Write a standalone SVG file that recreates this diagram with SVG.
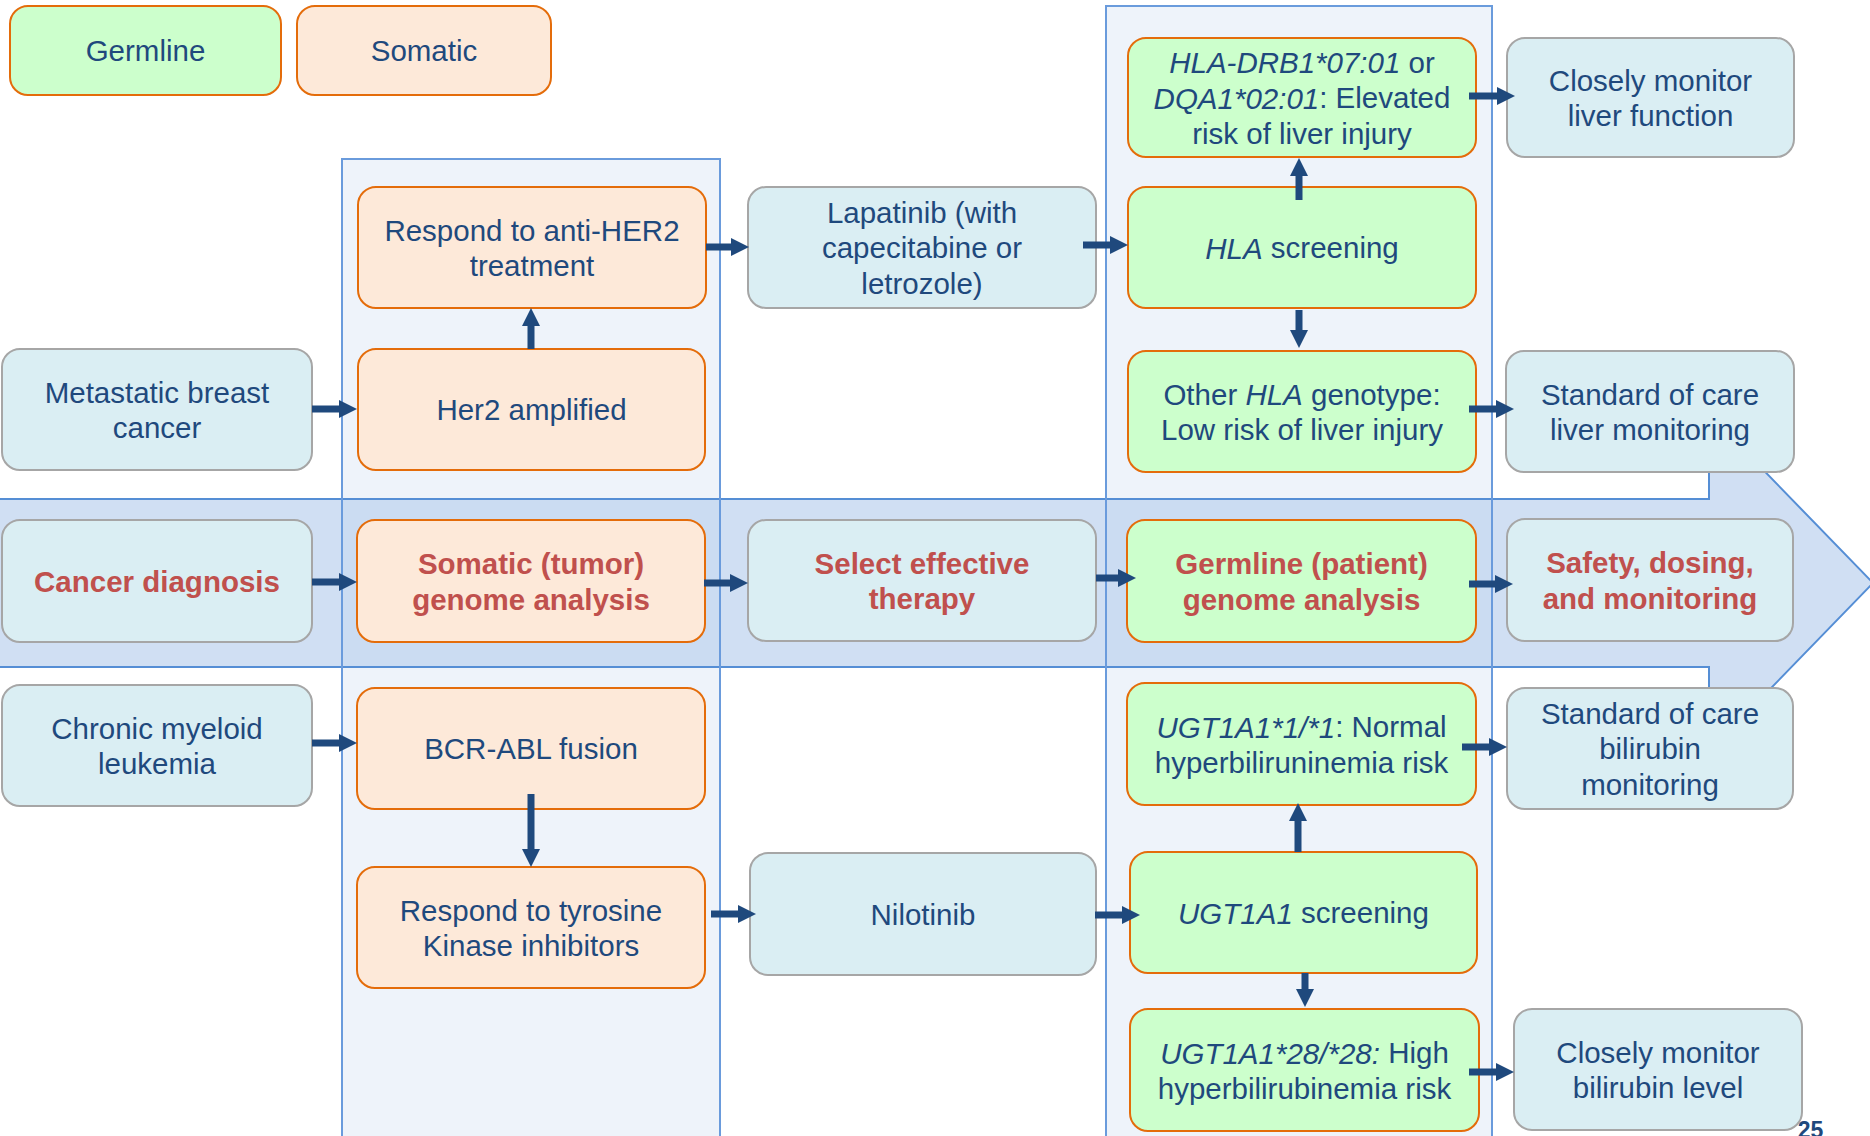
<svg xmlns="http://www.w3.org/2000/svg" width="1870" height="1136" viewBox="0 0 1870 1136">
<defs>
<style>
text{font-family:"Liberation Sans",Arial,sans-serif;font-size:29.5px;fill:#1F497D;text-anchor:middle;dominant-baseline:central}
.b{font-weight:bold;fill:#C0504D}
.i{font-style:italic}
.nb{fill:#DAEEF3;stroke:#A6A6A6;stroke-width:2}
.ns{fill:#FDE9D9;stroke:#E46C0A;stroke-width:2}
.ng{fill:#CCFFCC;stroke:#E46C0A;stroke-width:2}
.panel{fill:#EEF3FA;stroke:#6A9BDC;stroke-width:2}
.pline{fill:none;stroke:#6A9BDC;stroke-width:2}
.band{fill:#BCD2EE;fill-opacity:0.7;stroke:#558ED5;stroke-width:2}
.c line{stroke:#1F497D;stroke-width:7;marker-end:url(#ah)}
</style>
<marker id="ah" markerUnits="userSpaceOnUse" markerWidth="20" markerHeight="20" refX="4" refY="9" orient="auto">
<path d="M0,0 L18,9 L0,18 Z" fill="#1F497D"/>
</marker>
</defs>
<rect width="1870" height="1136" fill="#FFFFFF"/>
<g id="panels">
<rect class="panel" x="342" y="159" width="378" height="990"/>
<rect class="panel" x="1106" y="6" width="386" height="1143"/>
</g>
<path id="band" class="band" d="M-3,499 L1709,499 L1709,414 L1873,583 L1709,752 L1709,667 L-3,667 Z"/>
<g id="panel-lines">
<rect class="pline" x="342" y="159" width="378" height="990"/>
<rect class="pline" x="1106" y="6" width="386" height="1143"/>
</g>
<g id="legend-germline"><rect class="ng" x="10" y="6" width="271" height="89" rx="18"/><text x="145.5" y="50.5">Germline</text></g>
<g id="legend-somatic"><rect class="ns" x="297" y="6" width="254" height="89" rx="18"/><text x="424" y="50.5">Somatic</text></g>
<g id="hla-drb1"><rect class="ng" x="1128" y="38" width="348" height="119" rx="18"/><text x="1302" y="62"><tspan class="i">HLA-DRB1*07:01</tspan> or</text><text x="1302" y="97.5"><tspan class="i">DQA1*02:01</tspan>: Elevated</text><text x="1302" y="133">risk of liver injury</text></g>
<g id="monitor-liver"><rect class="nb" x="1507" y="38" width="287" height="119" rx="18"/><text x="1650.5" y="80">Closely monitor</text><text x="1650.5" y="115.5">liver function</text></g>
<g id="respond-her2"><rect class="ns" x="358" y="187" width="348" height="121" rx="18"/><text x="532" y="230">Respond to anti-HER2</text><text x="532" y="265.5">treatment</text></g>
<g id="lapatinib"><rect class="nb" x="748" y="187" width="348" height="121" rx="18"/><text x="922" y="212">Lapatinib (with</text><text x="922" y="247.5">capecitabine or</text><text x="922" y="283">letrozole)</text></g>
<g id="hla-screening"><rect class="ng" x="1128" y="187" width="348" height="121" rx="18"/><text x="1302" y="247.5"><tspan class="i">HLA</tspan> screening</text></g>
<g id="metastatic"><rect class="nb" x="2" y="349" width="310" height="121" rx="18"/><text x="157" y="392">Metastatic breast</text><text x="157" y="427.5">cancer</text></g>
<g id="her2"><rect class="ns" x="358" y="349" width="347" height="121" rx="18"/><text x="531.5" y="409.5">Her2 amplified</text></g>
<g id="other-hla"><rect class="ng" x="1128" y="351" width="348" height="121" rx="18"/><text x="1302" y="394"><tspan>Other </tspan><tspan class="i">HLA</tspan><tspan> genotype:</tspan></text><text x="1302" y="429.5">Low risk of liver injury</text></g>
<g id="std-liver"><rect class="nb" x="1506" y="351" width="288" height="121" rx="18"/><text x="1650" y="394">Standard of care</text><text x="1650" y="429.5">liver monitoring</text></g>
<g id="cancer-diagnosis"><rect class="nb" x="2" y="520" width="310" height="122" rx="18"/><text class="b" x="157" y="581">Cancer diagnosis</text></g>
<g id="somatic-analysis"><rect class="ns" x="357" y="520" width="348" height="122" rx="18"/><text class="b" x="531" y="563.5">Somatic (tumor)</text><text class="b" x="531" y="599">genome analysis</text></g>
<g id="select-therapy"><rect class="nb" x="748" y="520" width="348" height="121" rx="18"/><text class="b" x="922" y="563">Select effective</text><text class="b" x="922" y="598.5">therapy</text></g>
<g id="germline-analysis"><rect class="ng" x="1127" y="520" width="349" height="122" rx="18"/><text class="b" x="1301.5" y="563.5">Germline (patient)</text><text class="b" x="1301.5" y="599">genome analysis</text></g>
<g id="safety"><rect class="nb" x="1507" y="519" width="286" height="122" rx="18"/><text class="b" x="1650" y="562.5">Safety, dosing,</text><text class="b" x="1650" y="598">and monitoring</text></g>
<g id="cml"><rect class="nb" x="2" y="685" width="310" height="121" rx="18"/><text x="157" y="728">Chronic myeloid</text><text x="157" y="763.5">leukemia</text></g>
<g id="bcr-abl"><rect class="ns" x="357" y="688" width="348" height="121" rx="18"/><text x="531" y="748.5">BCR-ABL fusion</text></g>
<g id="respond-tki"><rect class="ns" x="357" y="867" width="348" height="121" rx="18"/><text x="531" y="910">Respond to tyrosine</text><text x="531" y="945.5">Kinase inhibitors</text></g>
<g id="nilotinib"><rect class="nb" x="750" y="853" width="346" height="122" rx="18"/><text x="923" y="914">Nilotinib</text></g>
<g id="ugt-screening"><rect class="ng" x="1130" y="852" width="347" height="121" rx="18"/><text x="1303.5" y="912.5"><tspan class="i">UGT1A1</tspan> screening</text></g>
<g id="ugt-11"><rect class="ng" x="1127" y="683" width="349" height="122" rx="18"/><text x="1301.5" y="726.5"><tspan class="i">UGT1A1*1/*1</tspan>: Normal</text><text x="1301.5" y="762">hyperbiliruninemia risk</text></g>
<g id="std-bilirubin"><rect class="nb" x="1507" y="688" width="286" height="121" rx="18"/><text x="1650" y="713">Standard of care</text><text x="1650" y="748.5">bilirubin</text><text x="1650" y="784">monitoring</text></g>
<g id="ugt-28"><rect class="ng" x="1130" y="1009" width="349" height="122" rx="18"/><text x="1304.5" y="1052.5"><tspan class="i">UGT1A1*28/*28:</tspan> High</text><text x="1304.5" y="1088">hyperbilirubinemia risk</text></g>
<g id="monitor-bilirubin"><rect class="nb" x="1514" y="1009" width="288" height="121" rx="18"/><text x="1658" y="1052">Closely monitor</text><text x="1658" y="1087.5">bilirubin level</text></g>
<g id="connectors" class="c">
<line x1="1469" y1="96" x2="1501" y2="96"/>
<line x1="706" y1="247" x2="735" y2="247"/>
<line x1="1083" y1="245" x2="1114" y2="245"/>
<line x1="1299" y1="200" x2="1299" y2="172"/>
<line x1="1299" y1="310" x2="1299" y2="334"/>
<line x1="312" y1="409" x2="343" y2="409"/>
<line x1="531" y1="349" x2="531" y2="322"/>
<line x1="1469" y1="409" x2="1500" y2="409"/>
<line x1="312" y1="582" x2="343" y2="582"/>
<line x1="704" y1="583" x2="734" y2="583"/>
<line x1="1096" y1="578" x2="1122" y2="578"/>
<line x1="1469" y1="584" x2="1499" y2="584"/>
<line x1="312" y1="743" x2="343" y2="743"/>
<line x1="531" y1="794" x2="531" y2="853"/>
<line x1="711" y1="914" x2="742" y2="914"/>
<line x1="1095" y1="915" x2="1126" y2="915"/>
<line x1="1298" y1="852" x2="1298" y2="817"/>
<line x1="1462" y1="747" x2="1493" y2="747"/>
<line x1="1305" y1="973" x2="1305" y2="993"/>
<line x1="1469" y1="1072" x2="1500" y2="1072"/>
</g>
<text x="1810.5" y="1138" style="font-weight:bold;font-size:23px;fill:#1F497D;dominant-baseline:alphabetic">25</text>
</svg>
